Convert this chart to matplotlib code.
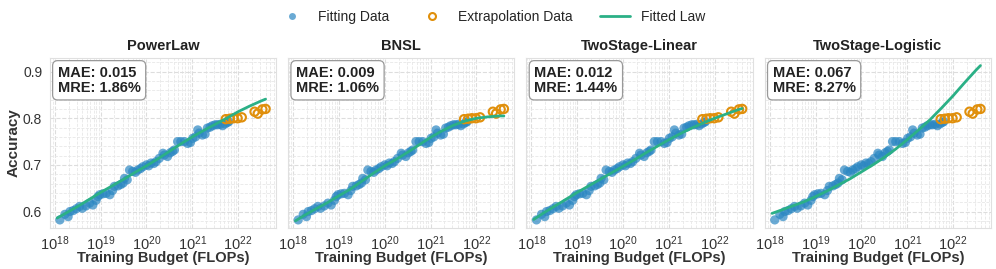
import numpy as np
import matplotlib
matplotlib.use("Agg")
import matplotlib.pyplot as plt
import seaborn as sns
from matplotlib.lines import Line2D
from matplotlib.ticker import LogLocator, MultipleLocator

# log10 of training FLOPs and accuracy for the points used in the fit
fit_logc = [18.11, 18.22, 18.29, 18.33, 18.40, 18.47, 18.54, 18.60, 18.68, 18.76,
            18.83, 18.90, 18.94, 18.98, 19.05, 19.12, 19.20, 19.26, 19.30, 19.38,
            19.44, 19.49, 19.52, 19.58, 19.63, 19.70, 19.76, 19.81, 19.87, 19.92,
            20.00, 20.05, 20.10, 20.16, 20.21, 20.28, 20.36, 20.39, 20.46, 20.52,
            20.57, 20.61, 20.68, 20.75, 20.83, 20.90, 20.96, 21.01, 21.07, 21.12,
            21.15, 21.22, 21.28, 21.33, 21.39, 21.44, 21.50, 21.55, 21.61, 21.66,
            21.72, 21.77, 21.80]
fit_acc = [0.582, 0.594, 0.589, 0.600, 0.602, 0.606, 0.611, 0.607, 0.612, 0.618,
           0.614, 0.624, 0.632, 0.636, 0.638, 0.639, 0.636, 0.645, 0.654, 0.655,
           0.658, 0.661, 0.671, 0.668, 0.689, 0.686, 0.684, 0.689, 0.692, 0.696,
           0.700, 0.698, 0.704, 0.703, 0.707, 0.714, 0.725, 0.721, 0.718, 0.726,
           0.729, 0.732, 0.750, 0.750, 0.750, 0.746, 0.748, 0.757, 0.760, 0.775,
           0.768, 0.764, 0.766, 0.779, 0.781, 0.784, 0.786, 0.786, 0.787, 0.784,
           0.788, 0.791, 0.793]

# held-out points
ext_logc = [21.73, 21.82, 21.90, 21.99, 22.08, 22.36, 22.43, 22.53, 22.60]
ext_acc = [0.798, 0.799, 0.800, 0.800, 0.802, 0.814, 0.810, 0.819, 0.820]

curve_logc = [18.05, 18.25, 18.5, 18.75, 19.0, 19.25, 19.5, 19.75, 20.0, 20.25,
              20.5, 20.75, 21.0, 21.25, 21.5, 21.75, 22.0, 22.25, 22.5, 22.6]
powerlaw_fit = [0.586, 0.597, 0.611, 0.626, 0.641, 0.655, 0.669, 0.684, 0.698, 0.713,
                0.729, 0.745, 0.760, 0.774, 0.787, 0.800, 0.814, 0.826, 0.837, 0.841]
bnsl_fit = [0.580, 0.592, 0.606, 0.619, 0.634, 0.648, 0.665, 0.682, 0.698, 0.712,
            0.727, 0.743, 0.759, 0.773, 0.785, 0.794, 0.800, 0.803, 0.805, 0.805]
linear_fit = [0.583, 0.596, 0.611, 0.626, 0.641, 0.655, 0.669, 0.683, 0.697, 0.711,
              0.726, 0.740, 0.754, 0.767, 0.779, 0.790, 0.800, 0.809, 0.818, 0.821]
logistic_fit = [0.596, 0.603, 0.612, 0.621, 0.632, 0.644, 0.657, 0.670, 0.685, 0.700,
                0.716, 0.734, 0.754, 0.775, 0.797, 0.822, 0.848, 0.876, 0.903, 0.913]

titles = ["PowerLaw", "BNSL", "TwoStage-Linear", "TwoStage-Logistic"]
fits = [powerlaw_fit, bnsl_fit, linear_fit, logistic_fit]
mae = ["0.015", "0.009", "0.012", "0.067"]
mre = ["1.86%", "1.06%", "1.44%", "8.27%"]

blue = "#2b87c2"
orange = "#e08f0b"
green = "#2bb086"

sns.set_style("whitegrid")
plt.rcParams["font.family"] = ["Liberation Sans", "DejaVu Sans"]
plt.rcParams["mathtext.fontset"] = "custom"
plt.rcParams["mathtext.rm"] = "Liberation Sans"
plt.rcParams["mathtext.it"] = "Liberation Sans:italic"
plt.rcParams["mathtext.bf"] = "Liberation Sans:bold"

fig, axes = plt.subplots(1, 4, figsize=(9.96, 2.69), dpi=100, sharey=True)
fig.subplots_adjust(left=0.050, right=0.995, bottom=0.153, top=0.784, wspace=0.053)

fx = 10 ** np.array(fit_logc)
ex = 10 ** np.array(ext_logc)
cx = 10 ** np.array(curve_logc)

for i, ax in enumerate(axes):
    ax.scatter(fx, fit_acc, s=44, color=blue, alpha=0.7, edgecolors="none", zorder=3)
    ax.scatter(ex, ext_acc, s=36, facecolors="none", edgecolors=orange, linewidths=1.5, zorder=3)
    ax.plot(cx, fits[i], color=green, lw=2, zorder=4)
    ax.set_xscale("log")
    ax.set_xlim(10 ** 17.89, 10 ** 22.83)
    ax.set_ylim(0.565, 0.929)
    ax.xaxis.set_major_locator(LogLocator(base=10, numticks=10))
    ax.xaxis.set_minor_locator(LogLocator(base=10, subs=np.arange(2, 10), numticks=50))
    ax.yaxis.set_major_locator(MultipleLocator(0.1))
    ax.yaxis.set_minor_locator(MultipleLocator(0.02))
    ax.grid(True, which="major", ls="--", lw=0.8, color="#dddddd")
    ax.grid(True, which="minor", ls="--", lw=0.6, color="#e8e8e8")
    ax.tick_params(axis="x", which="major", labelsize=10.5, pad=1, colors="#333333")
    ax.tick_params(axis="y", which="major", labelsize=10, pad=2, colors="#333333")
    ax.tick_params(which="minor", length=0)
    for sp in ax.spines.values():
        sp.set_color("#e0e0e0")
    ax.set_title(titles[i], fontsize=10.5, fontweight="bold", pad=6, color="#222222")
    ax.set_xlabel("Training Budget (FLOPs)", fontsize=10.5, fontweight="bold",
                  labelpad=-1, color="#333333")
    ax.text(0.035, 0.955, "MAE: " + mae[i] + "\nMRE: " + mre[i], transform=ax.transAxes,
            fontsize=10.5, fontweight="bold", va="top", ha="left", color="#222222",
            linespacing=1.1,
            bbox=dict(boxstyle="round,pad=0.35", fc="white", ec="#999999", lw=0.9))

axes[0].set_ylabel("Accuracy", fontsize=11, fontweight="bold", color="#333333", labelpad=2)

handles = [
    Line2D([], [], ls="none", marker="o", ms=5, color=blue, alpha=0.7, mec="none"),
    Line2D([], [], ls="none", marker="o", ms=5, mfc="none", mec=orange, mew=1.5),
    Line2D([], [], color=green, lw=2),
]
fig.legend(handles, ["Fitting Data", "Extrapolation Data", "Fitted Law"],
           loc="center", bbox_to_anchor=(0.493, 0.938), ncol=3, frameon=False,
           fontsize=10, columnspacing=2.0, handletextpad=0.8, handlelength=2.15)

fig.savefig("out.png", dpi=100)
